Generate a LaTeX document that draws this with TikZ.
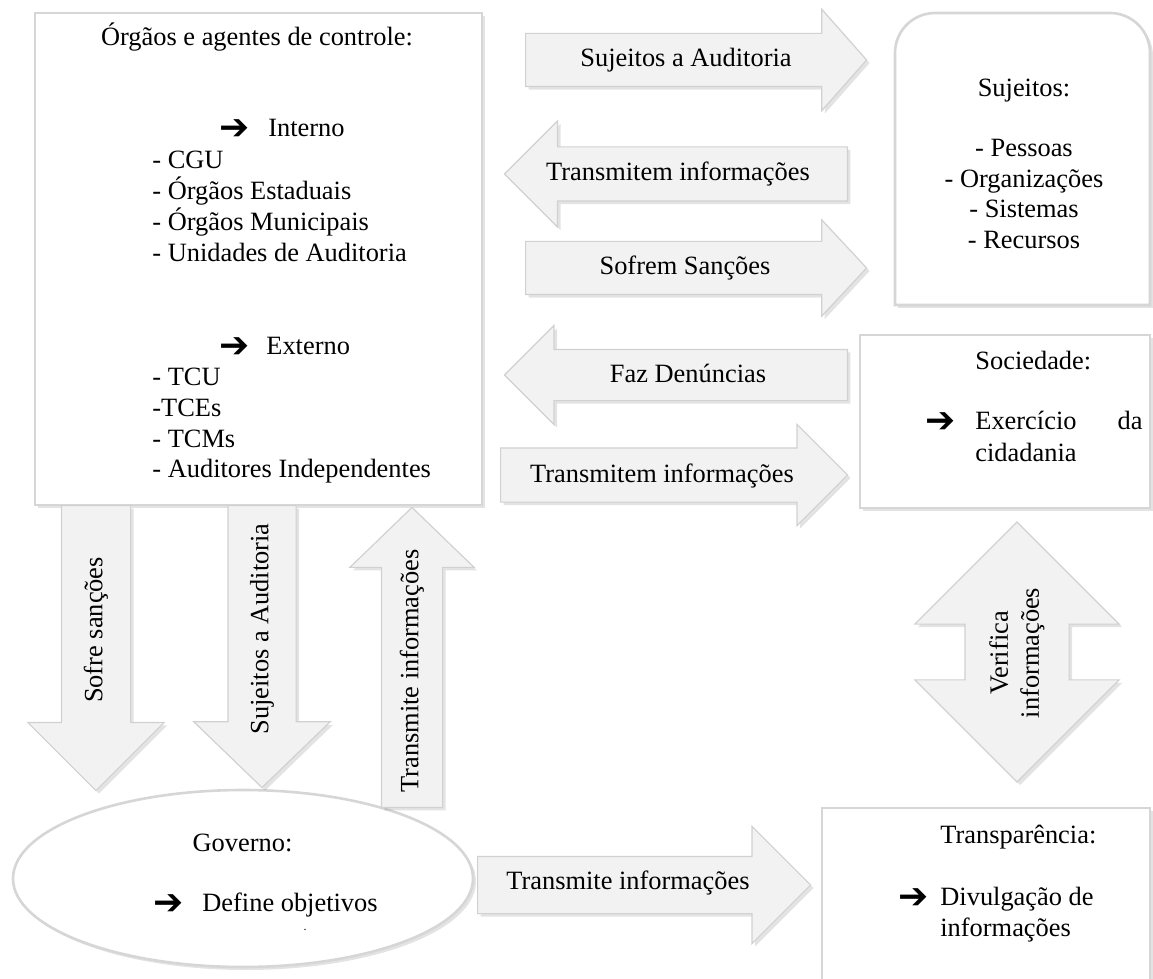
\documentclass[tikz,border=0pt]{standalone}
\usepackage{fontspec}
\setmainfont{Liberation Serif}
\newfontfamily\symbfont{DejaVu Sans}
\usetikzlibrary{shapes.arrows,shapes.geometric,shadows}

\tikzset{
  txt/.style={font=\fontsize{13.2}{15.5}\selectfont, inner sep=0pt},
  lbl/.style={txt, text height=9.2pt, text depth=2.9pt},
  seta/.style={font=\symbfont\fontsize{18}{18}\selectfont, inner sep=0pt},
  sombra/.style={drop shadow={opacity=0.22, shadow xshift=1.5pt, shadow yshift=-1.5pt}},
  box/.style={draw=black!16, line width=1.3pt, fill=white, inner sep=0pt, sombra},
  blockarrow/.style={single arrow, draw=black!18, line width=0.6pt, fill=black!5,
    inner sep=0pt, text depth=0pt, minimum width=0pt, anchor=tail, sombra},
  % largura do corpo, avanco da cabeca, comprimento
  dims/.style n args={3}{text height=#1, single arrow head extend=#2, minimum height=#3}
}

\begin{document}
\begin{tikzpicture}[x=0.5pt, y=-0.5pt]
\useasboundingbox (0,0) rectangle (1153,979);

% caixas
\node[box, minimum width=223.5pt, minimum height=246pt] (orgaos) at (258.5,259) {};
\draw[box] (895,305) -- (895,53) arc[start angle=180, end angle=270, radius=40]
  -- (1110,13) arc[start angle=270, end angle=360, radius=40] -- (1150,305) -- cycle;
\node[box, minimum width=145pt, minimum height=86.5pt] (sociedade) at (1005,421.5) {};
\node[box, minimum width=164pt, minimum height=93.5pt] (transp) at (986,901.5) {};
\node[box, ellipse, minimum width=230pt, minimum height=88.5pt] (governo) at (243,878.5) {};

% setas
\node[blockarrow, dims={26pt}{12pt}{170.5pt}, single arrow tip angle=97] (sujaud) at (525,60) {};
\node[blockarrow, shape border rotate=180, dims={26.5pt}{13pt}{171.5pt}] (transm1) at (848,174) {};
\node[blockarrow, dims={26pt}{10.75pt}{170.5pt}, single arrow tip angle=94] (sofrem) at (525,268) {};
\node[blockarrow, shape border rotate=180, dims={25pt}{12pt}{171.5pt}] (denuncias) at (848,375) {};
\node[blockarrow, dims={26.5pt}{11.75pt}{173.5pt}] (transm2) at (500,475) {};
\node[blockarrow, dims={28pt}{15pt}{166.5pt}] (transm3) at (477,885) {};
\node[blockarrow, rotate=90, shape border rotate=180, dims={34pt}{16.75pt}{142.5pt}] (sofre) at (96,505) {};
\node[blockarrow, rotate=90, shape border rotate=180, dims={33.5pt}{17pt}{141pt}, single arrow tip angle=92] (sujaud2) at (262,505) {};
\node[blockarrow, rotate=90, dims={30pt}{15.75pt}{150pt}, single arrow tip angle=92] (transm4) at (412,808) {};
\node[double arrow, draw=black!18, line width=0.6pt, fill=black!5, inner sep=0pt, rotate=90,
  text height=51.5pt, text depth=0pt, minimum width=0pt, double arrow head extend=25pt,
  minimum height=130pt, sombra] (verifica) at (1017,652) {};

% rotulos das setas
\node[lbl] (lsujaud) at (686,60) {Sujeitos a Auditoria};
\node[lbl] (ltransm1) at (678,174) {Transmitem informações};
\node[lbl] (lsofrem) at (685,268) {Sofrem Sanções};
\node[lbl] (ldenuncias) at (688,376) {Faz Denúncias};
\node[lbl] (ltransm2) at (662,476) {Transmitem informações};
\node[lbl] (ltransm3) at (628,883) {Transmite informações};
\node[lbl, rotate=90] (lsofre) at (96,630) {Sofre sanções};
\node[lbl, rotate=90] (lsujaud2) at (262,629) {Sujeitos a Auditoria};
\node[lbl, rotate=90] (ltransm4) at (412,671) {Transmite informações};
\node[txt, rotate=90, align=center] (lverifica) at (1017,653) {Verifica\\informações};

% textos das caixas
\node[txt, anchor=base] (titulo) at (257,46) {Órgãos e agentes de controle:};
\node[seta] (s1) at (234.5,130) {➔};
\node[txt, anchor=base west] (interno) at (268,136.5) {Interno};
\foreach \linha [count=\i from 0] in {- CGU, - Órgãos Estaduais, - Órgãos Municipais, - Unidades de Auditoria}
  \node[txt, anchor=base west] (int\i) at (152,{168.5+31*\i}) {\linha};
\node[seta] (s2) at (234.5,347.5) {➔};
\node[txt, anchor=base west] (externo) at (266,354) {Externo};
\foreach \linha [count=\i from 0] in {- TCU, -TCEs, - TCMs, - Auditores Independentes}
  \node[txt, anchor=base west] (ext\i) at (152,{386+30.5*\i}) {\linha};

\node[txt, anchor=base] (sujeitos) at (1024,96.5) {Sujeitos:};
\foreach \linha [count=\i from 0] in {- Pessoas, - Organizações, - Sistemas, - Recursos}
  \node[txt, anchor=base] (suj\i) at (1024,{156.5+30.7*\i}) {\linha};

\node[txt, anchor=base west] (soc) at (975,369.5) {Sociedade:};
\node[seta] (s3) at (941,423) {➔};
\node[txt, anchor=base west] (exerc) at (975,429.5) {Exercício};
\node[txt, anchor=base east] (da) at (1143,429.5) {da};
\node[txt, anchor=base west] (cidad) at (975,461.5) {cidadania};

\node[txt, anchor=base west] (transpt) at (940,843.5) {Transparência:};
\node[seta] (s4) at (914,899) {➔};
\node[txt, anchor=base west] (divulg) at (940,905) {Divulgação de};
\node[txt, anchor=base west] (inform) at (940,936) {informações};

\node[txt, anchor=base] (gov) at (242.5,851.5) {Governo:};
\node[seta] (s5) at (168.5,905) {➔};
\node[txt, anchor=base west] (objet) at (202,911.5) {Define objetivos};
\node[txt, font=\fontsize{6}{6}\selectfont] (ponto) at (305,930) {.};
\end{tikzpicture}
\end{document}
